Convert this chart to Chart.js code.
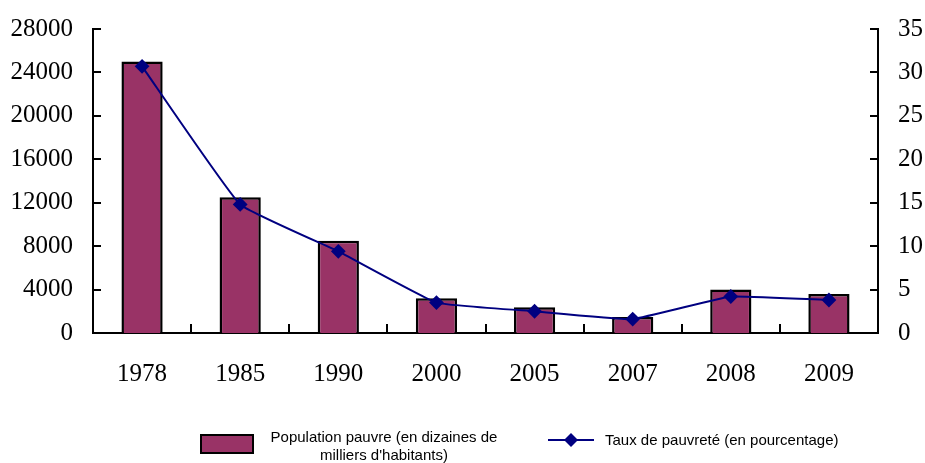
<!DOCTYPE html>
<html>
<head>
<meta charset="utf-8">
<script src="https://cdn.jsdelivr.net/npm/chart.js"></script>
<style>
  html, body { margin: 0; padding: 0; background: #fff; }
  #wrap { position: relative; width: 925px; height: 463px; }
  .legend { position: absolute; font-family: "Liberation Sans", Arial, sans-serif; font-size: 15px; color: #000; }
  .swatch { position: absolute; left: 200px; top: 434px; width: 50px; height: 16px; background: #993366; border: 2px solid #000; box-sizing: content-box; }
  .txt1 { left: 262px; top: 428px; width: 244px; text-align: center; line-height: 18px; }
  .txt2 { left: 605px; top: 431px; white-space: nowrap; }
</style>
</head>
<body>
<div id="wrap">
  <canvas id="chart" width="925" height="463"></canvas>
  <div class="legend swatch"></div>
  <div class="legend txt1">Population pauvre (en dizaines de milliers d'habitants)</div>
  <canvas id="lineKey" width="50" height="20" style="position:absolute;left:546px;top:430px;"></canvas>
  <div class="legend txt2">Taux de pauvreté (en pourcentage)</div>
</div>
<script>
  const years = ['1978', '1985', '1990', '2000', '2005', '2007', '2008', '2009'];
  // poor population, in tens of thousands
  const poorPopulation = [25000, 12500, 8500, 3209, 2365, 1479, 4007, 3597];
  // poverty rate, percent
  const povertyRate = [30.7, 14.8, 9.4, 3.5, 2.5, 1.6, 4.2, 3.8];
  const leftTicks = [0, 4000, 8000, 12000, 16000, 20000, 24000, 28000];
  const rightTicks = [0, 5, 10, 15, 20, 25, 30, 35];

  const BAR_COLOR = '#993366';
  const LINE_COLOR = '#000080';
  const serif = '"Liberation Serif", "Times New Roman", serif';

  // tick marks drawn inside the plot, as in the source figure
  const inwardTicks = {
    id: 'inwardTicks',
    afterDraw(chart) {
      const ctx = chart.ctx;
      const area = chart.chartArea;
      const x = chart.scales.x;
      const yL = chart.scales.y;
      const yR = chart.scales.y1;
      ctx.save();
      ctx.strokeStyle = '#000';
      ctx.lineWidth = 2;
      ctx.beginPath();
      leftTicks.forEach((v) => {
        const py = Math.round(yL.getPixelForValue(v));
        ctx.moveTo(area.left, py);
        ctx.lineTo(area.left + 8, py);
      });
      rightTicks.forEach((v) => {
        const py = Math.round(yR.getPixelForValue(v));
        ctx.moveTo(area.right, py);
        ctx.lineTo(area.right - 8, py);
      });
      for (let i = 1; i < years.length; i += 1) {
        const px = Math.round((x.getPixelForValue(i - 1) + x.getPixelForValue(i)) / 2);
        ctx.moveTo(px, area.bottom);
        ctx.lineTo(px, area.bottom - 9);
      }
      ctx.stroke();
      ctx.restore();
    },
  };

  const plain = (value) => String(value);

  // fixed side widths so the plot box lands where the original has it
  function fitSide(width) {
    return (scale) => {
      scale.width = width;
      scale.paddingTop = 0;
      scale.paddingBottom = 0;
    };
  }

  new Chart(document.getElementById('chart').getContext('2d'), {
    data: {
      labels: years,
      datasets: [
        {
          type: 'line',
          label: 'Taux de pauvreté (en pourcentage)',
          data: povertyRate,
          yAxisID: 'y1',
          borderColor: LINE_COLOR,
          backgroundColor: LINE_COLOR,
          borderWidth: 2,
          pointStyle: 'rectRot',
          pointRadius: 6,
          pointHoverRadius: 6,
          tension: 0.1,
          order: 0,
        },
        {
          type: 'bar',
          label: "Population pauvre (en dizaines de milliers d'habitants)",
          data: poorPopulation,
          yAxisID: 'y',
          backgroundColor: BAR_COLOR,
          borderColor: '#000',
          borderWidth: 2.5,
          categoryPercentage: 0.42,
          barPercentage: 1,
          order: 1,
        },
      ],
    },
    options: {
      responsive: false,
      animation: false,
      events: [],
      layout: { padding: { top: 29, left: 0, right: 0, bottom: 0 } },
      plugins: {
        legend: { display: false },
        tooltip: { enabled: false },
      },
      scales: {
        x: {
          offset: true,
          grid: { display: false, drawTicks: false },
          border: { display: true, color: '#000', width: 2 },
          ticks: { color: '#000', font: { family: serif, size: 25 }, padding: 26, maxRotation: 0 },
          afterFit(scale) {
            scale.height = 130;
            scale.paddingLeft = 0;
            scale.paddingRight = 0;
          },
        },
        y: {
          position: 'left',
          min: 0,
          max: 28000,
          grid: { display: false, drawTicks: false },
          border: { display: true, color: '#000', width: 2 },
          afterBuildTicks(scale) { scale.ticks = leftTicks.map((v) => ({ value: v })); },
          ticks: { color: '#000', font: { family: serif, size: 25 }, padding: 20, callback: plain },
          afterFit: fitSide(93),
        },
        y1: {
          position: 'right',
          min: 0,
          max: 35,
          grid: { display: false, drawTicks: false },
          border: { display: true, color: '#000', width: 2 },
          afterBuildTicks(scale) { scale.ticks = rightTicks.map((v) => ({ value: v })); },
          ticks: { color: '#000', font: { family: serif, size: 25 }, padding: 20, callback: plain },
          afterFit: fitSide(47),
        },
      },
    },
    plugins: [inwardTicks],
  });

  // legend key for the line series
  const k = document.getElementById('lineKey').getContext('2d');
  k.strokeStyle = LINE_COLOR;
  k.lineWidth = 2;
  k.beginPath();
  k.moveTo(2, 10);
  k.lineTo(48, 10);
  k.stroke();
  k.fillStyle = LINE_COLOR;
  k.beginPath();
  k.moveTo(25, 3);
  k.lineTo(32, 10);
  k.lineTo(25, 17);
  k.lineTo(18, 10);
  k.closePath();
  k.fill();
</script>
</body>
</html>
